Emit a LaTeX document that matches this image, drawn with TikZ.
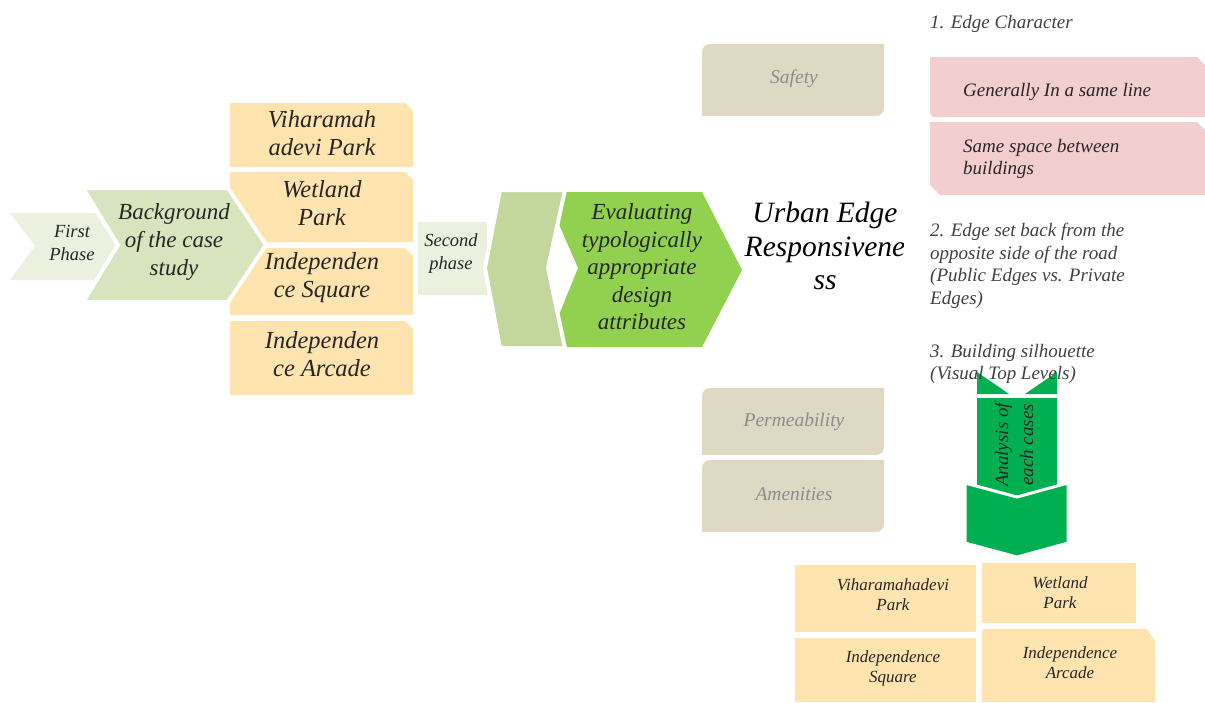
\documentclass[tikz,border=0pt]{standalone}
\usepackage{fontspec}
\setmainfont{Liberation Serif}
\definecolor{phaseA}{HTML}{EBF1DE}
\definecolor{phaseB}{HTML}{D7E4BD}
\definecolor{orng}{HTML}{FFE4B0}
\definecolor{chevB}{HTML}{C3D69B}
\definecolor{lgreen}{HTML}{92D050}
\definecolor{beige}{HTML}{DDD9C3}
\definecolor{pinkb}{HTML}{F2CECE}
\definecolor{dgreen}{HTML}{00B050}
\definecolor{txtdark}{HTML}{262626}
\definecolor{txtgray}{HTML}{8C8C8C}
\definecolor{txtmid}{HTML}{404040}
\begin{document}
\begin{tikzpicture}[x=1pt,y=-1pt,
  lbl/.style={font=\itshape, text=txtdark, align=center, inner sep=0pt},
  big/.style={lbl, font=\fontsize{23}{27.5}\selectfont\itshape},
  mid/.style={lbl, font=\fontsize{18.5}{23}\selectfont\itshape},
  small/.style={lbl, font=\fontsize{17}{20}\selectfont\itshape},
  side/.style={lbl, text=txtmid, align=left, font=\fontsize{19}{22.5}\selectfont\itshape},
  graytxt/.style={lbl, text=txtgray, font=\fontsize{19.5}{23}\selectfont\itshape},
  cut/.style={draw=white, line width=4, line join=miter}
]
\useasboundingbox (0,0) rectangle (1205,702);

% ---- first group ----
\fill[phaseA] (10,213) -- (95,213) -- (122,246) -- (95,280) -- (10,280) -- (35,246) -- cycle;
\fill[orng] (230,103) -- (405,103) -- (413,111) -- (413,167) -- (230,167) -- cycle;
\fill[orng] (230,172) -- (405,172) -- (413,180) -- (413,242) -- (230,242) -- cycle;
\fill[orng] (230,248) -- (405,248) -- (413,256) -- (413,315) -- (230,315) -- cycle;
\fill[orng] (230,321) -- (405,321) -- (413,329) -- (413,395) -- (230,395) -- cycle;
\filldraw[fill=phaseB, cut] (83,188) -- (228,188) -- (266,245) -- (228,302) -- (83,302) -- (118,245) -- cycle;

\node[mid] (first) at (72,243) {First\\Phase};
\node[big, font=\fontsize{23}{28}\selectfont\itshape] (background) at (174,242) {Background\\of the case\\study};
\node[big, font=\fontsize{24.5}{28}\selectfont\itshape] (vih) at (322,133) {Viharamah\\adevi Park};
\node[big, font=\fontsize{24.5}{28}\selectfont\itshape] (wet) at (322,203) {Wetland\\Park};
\node[big, font=\fontsize{24.5}{28}\selectfont\itshape] (isq) at (322,278) {Independen\\ce Square};
\node[big, font=\fontsize{24.5}{28}\selectfont\itshape] (iar) at (322,354) {Independen\\ce Arcade};

% ---- second group ----
\fill[phaseA] (418,222) rectangle (487,295);
\fill[lgreen] (545,192) -- (702,192) -- (742,270) -- (702,347) -- (546,347) -- (578,268) -- cycle;
\filldraw[fill=chevB, cut] (500,190) -- (565,190) -- (548,268) -- (565,348) -- (500,348) -- (485,268) -- cycle;
\node[mid] (second) at (451,254) {Second\\phase};
\node[big] (evaluating) at (642,267) {Evaluating\\typologically\\appropriate\\design\\attributes};

% ---- centre title ----
\begin{scope}
\clip (730,185) rectangle (903,300);
\node[lbl, font=\fontsize{29.5}{33.5}\selectfont\itshape, text=black] (urban) at (825,246) {Urban Edge\\Responsivene\\ss};
\end{scope}

% ---- beige boxes ----
\fill[beige] (702,116) -- (702,52) arc[start angle=180,end angle=270,radius=8] -- (884,44) -- (884,108) arc[start angle=0,end angle=90,radius=8] -- cycle;
\fill[beige] (702,455) -- (702,396) arc[start angle=180,end angle=270,radius=8] -- (884,388) -- (884,447) arc[start angle=0,end angle=90,radius=8] -- cycle;
\fill[beige] (702,532) -- (702,468) arc[start angle=180,end angle=270,radius=8] -- (884,460) -- (884,524) arc[start angle=0,end angle=90,radius=8] -- cycle;
\node[graytxt] (safety) at (794,79) {Safety};
\node[graytxt] (perm) at (794,422) {Permeability};
\node[graytxt] (amen) at (794,494) {Amenities};

% ---- right column ----
\node[side, anchor=west] (edge1) at (930,24) {1. Edge Character};
\fill[pinkb] (930,57) -- (1197,57) -- (1205,65) -- (1205,117) -- (933,117) -- (930,114) -- cycle;
\fill[pinkb] (930,122) -- (1197,122) -- (1205,130) -- (1205,195) -- (940,195) -- (930,185) -- cycle;
\node[side, text=txtdark, anchor=west] (sameline) at (963,92) {Generally In a same line};
\node[side, text=txtdark, anchor=west] (samespace) at (963,159) {Same space between\\buildings};
\node[side, anchor=west] (edge2) at (930,266) {2. Edge set back from the\\opposite side of the road\\(Public Edges vs. Private\\Edges)};

% ---- green down arrow ----
\fill[dgreen] (977,372) -- (977,394) -- (1009,394) -- cycle;
\fill[dgreen] (1057,372) -- (1057,394) -- (1025,394) -- cycle;
\fill[dgreen] (977,398) rectangle (1057,495);
\filldraw[fill=dgreen, draw=white, line width=3, line join=miter] (965,483) -- (1017,497) -- (1068,483) -- (1068,543) -- (1017,557) -- (965,543) -- cycle;
\node[lbl, rotate=90, font=\fontsize{19}{25}\selectfont\itshape] (analysis) at (1014,445) {Analysis of\\each cases};
\node[side, anchor=west] (edge3) at (930,364) {3. Building silhouette\\(Visual Top Levels)};

% ---- bottom boxes ----
\fill[orng] (795,565) rectangle (976,632);
\fill[orng] (982,563) rectangle (1136,623);
\fill[orng] (795,638) rectangle (976,702);
\fill[orng] (982,629) -- (1147,629) -- (1155,641) -- (1155,702) -- (982,702) -- cycle;
\node[small] (bvih) at (893,595) {Viharamahadevi\\Park};
\node[small] (bwet) at (1060,593) {Wetland\\Park};
\node[small] (bisq) at (893,668) {Independence\\Square};
\node[small] (biar) at (1070,663) {Independence\\Arcade};
\end{tikzpicture}
\end{document}
